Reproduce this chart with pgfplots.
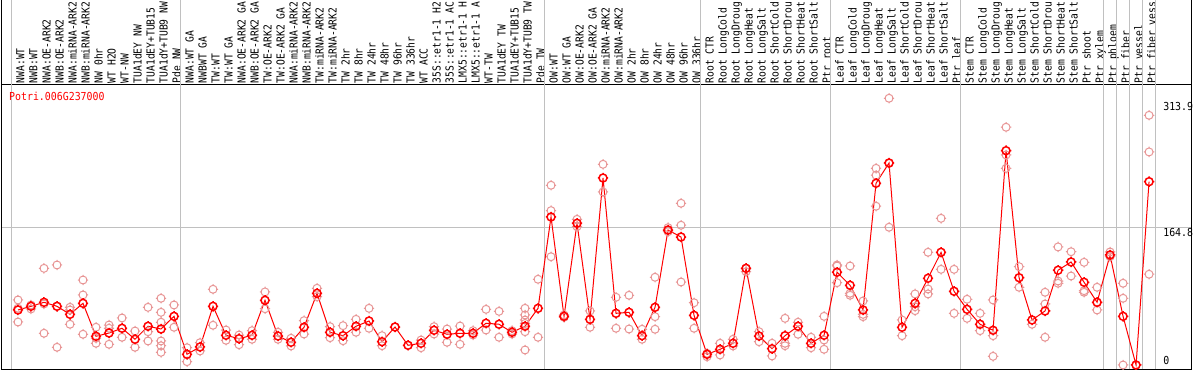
\documentclass[border=0pt]{standalone}
\usepackage{pgfplots}
\pgfplotsset{compat=1.18}
\usepackage{fontspec}
\newfontfamily\mono[FakeStretch=0.9]{DejaVu Sans Mono}
\newfontfamily\hmono[FakeStretch=0.88]{DejaVu Sans Mono}
\definecolor{reppink}{RGB}{232,150,150}
\definecolor{sepgray}{RGB}{192,192,192}
\pgfdeclareplotmark{tcirc}{%
  \pgfpathcircle{\pgfpointorigin}{\pgfplotmarksize}%
  \pgfpathmoveto{\pgfqpoint{0pt}{0.8\pgfplotmarksize}}\pgfpathlineto{\pgfqpoint{0pt}{1.3\pgfplotmarksize}}%
  \pgfpathmoveto{\pgfqpoint{0pt}{-0.8\pgfplotmarksize}}\pgfpathlineto{\pgfqpoint{0pt}{-1.3\pgfplotmarksize}}%
  \pgfpathmoveto{\pgfqpoint{0.8\pgfplotmarksize}{0pt}}\pgfpathlineto{\pgfqpoint{1.3\pgfplotmarksize}{0pt}}%
  \pgfpathmoveto{\pgfqpoint{-0.8\pgfplotmarksize}{0pt}}\pgfpathlineto{\pgfqpoint{-1.3\pgfplotmarksize}{0pt}}%
  \pgfusepathqstroke}
\newcommand{\lblfont}{\mono\fontsize{11bp}{13bp}\selectfont}
\newcommand{\hdrfont}{\hmono\fontsize{11bp}{13bp}\selectfont}
\begin{document}
\begin{tikzpicture}
\begin{axis}[
  scale only axis, width=1190bp, height=284bp,
  xmin=-0.269, xmax=91.27, ymin=-4.8, ymax=335.4,
  clip=false,
  axis line style={line width=1bp, black},
  xtick={1,...,88},
  xticklabels={NWA:WT,NWB:WT,NWA:OE-ARK2,NWB:OE-ARK2,NWA:miRNA-ARK2,NWB:miRNA-ARK2,NW 0hr,WT H2O,WT-NW,TUA1dEY NW,TUA1dEY+TUB15,TUA1dY+TUB9 NW,Pde NW,
    NWA:WT GA,NWBWT GA,TW:WT,TW:WT GA,NWA:OE-ARK2 GA,NWB:OE-ARK2 GA,TW:OE-ARK2,TW:OE-ARK2 GA,NWA:miRNA-ARK2,NWB:miRNA-ARK2,TW:miRNA-ARK2,TW:miRNA-ARK2,TW 2hr,TW 8hr,TW 24hr,TW 48hr,TW 96hr,TW 336hr,WT ACC,35S::etr1-1 H2,35S::etr1-1 AC,LMX5::etr1-1 H,LMX5::etr1-1 A,WT-TW,TUA1dEY TW,TUA1dEY+TUB15,TUA1dY+TUB9 TW,Pde TW,
    OW:WT,OW:WT GA,OW:OE-ARK2,OW:OE-ARK2 GA,OW:miRNA-ARK2,OW:miRNA-ARK2,OW 2hr,OW 8hr,OW 24hr,OW 48hr,OW 96hr,OW 336hr,
    Root CTR,Root LongCold,Root LongDroug,Root LongHeat,Root LongSalt,Root ShortCold,Root ShortDrou,Root ShortHeat,Root ShortSalt,Ptr root,
    Leaf CTR,Leaf LongCold,Leaf LongDroug,Leaf LongHeat,Leaf LongSalt,Leaf ShortCold,Leaf ShortDrou,Leaf ShortHeat,Leaf ShortSalt,Ptr leaf,
    Stem CTR,Stem LongCold,Stem LongDroug,Stem LongHeat,Stem LongSalt,Stem ShortCold,Stem ShortDrou,Stem ShortHeat,Stem ShortSalt,Ptr shoot,Ptr xylem,Ptr phloem,Ptr fiber,Ptr vessel,Ptr fiber vess},
  xticklabel pos=upper,
  major tick length=0pt,
  xticklabel style={font=\hdrfont, xshift=6.5bp, yshift=1.5bp, rotate=90, anchor=base west, inner sep=0pt},
  ytick={164.8}, yticklabels={},
  ymajorgrids, major grid style={sepgray, line width=1bp},
]
\coordinate (SW) at (rel axis cs:0,0);
\foreach \s in {0.5,13.5,41.5,53.5,63.5,73.5,84.5,85.5,86.5,87.5,88.5}{
  \edef\tmp{\noexpand\draw[sepgray, line width=1bp] (axis cs:\s,-4.8) -- (axis cs:\s,335.4) -- ++(0pt,90bp);}\tmp
}
\draw[black, line width=1bp] (rel axis cs:0,1) -- ++(0pt,90bp);
\draw[black, line width=1bp] (rel axis cs:1,1) -- ++(0pt,90bp);
\node[anchor=base west, inner sep=0pt, font=\lblfont, text=red] at (axis cs:0.308,316.6) {Potri.006G237000};
\node[anchor=base west, inner sep=0pt, font=\lblfont] at (axis cs:89.08,304.6) {313.9};
\node[anchor=base west, inner sep=0pt, font=\lblfont] at (axis cs:89.08,153.9) {164.8};
\node[anchor=base west, inner sep=0pt, font=\lblfont] at (axis cs:89.08,0) {0};
\addplot[only marks, mark=tcirc, mark size=4bp, mark options={reppink, line width=1bp}] coordinates {
(1,77.9)(1,68)(1,51.5)(2,71.9)(2,67.1)(3,115.8)(3,73.1)(3,38.0)(4,119.8)(4,70.3)(4,21.2)
(5,69.1)(5,65.9)(5,48.8)(6,101.8)(6,83.9)(6,36.8)(7,45.2)(7,32.0)(7,26.0)(8,47.9)(8,44.0)(8,24.8)
(9,56.3)(9,33.2)(10,40.7)(10,21.2)(11,69.1)(11,39.9)(11,28.8)
(12,79.9)(12,63.1)(12,51.2)(12,28.8)(12,23.1)(12,15.2)(13,71.9)(13,45.2)
(14,20.7)(14,4.0)(15,26.7)(15,16.8)(16,90.7)(16,47.6)(17,41.9)(17,29.6)(18,35.9)(18,24.3)
(19,41.1)(19,30.8)(20,87.5)(20,67.4)(21,39.2)(21,30.8)(22,32.0)(22,22.8)(23,53.1)(23,37.1)
(24,91.9)(24,81.8)(25,45.9)(25,32.7)(26,47.1)(26,29.1)(27,54.7)(27,39.2)(28,67.9)(28,44.0)
(29,35.1)(29,23.1)(30,45.5)(31,23.6)(32,29.9)(32,20.7)(33,45.9)(33,37.1)(34,43.1)(34,27.2)
(35,46.7)(35,24.8)(36,41.1)(36,35.9)(37,66.7)(37,41.9)(38,64.3)(38,33.2)(39,41.1)(39,37.1)
(40,67.9)(40,59.9)(40,53.9)(40,49.8)(40,39.9)(40,18.0)(41,102.7)(41,33.2)
(42,215.3)(42,184.9)(42,129.7)(43,59.9)(43,57.1)(44,174.5)(44,165.7)(45,64.7)(45,45.2)
(46,240.4)(46,207.3)(47,81.1)(47,44.0)(48,83.5)(48,43.1)(49,42.8)(49,30.8)
(50,105.1)(50,57.9)(50,42.8)(51,164.5)(51,159.7)(52,193.7)(52,167.4)(52,99.4)(53,74.6)(53,44.0)
(54,14.0)(54,9.9)(55,26.0)(55,12.0)(56,30.8)(56,22.8)(57,115.8)(57,111.8)(58,39.9)(58,27.9)
(59,26.0)(59,10.8)(60,55.9)(60,26.0)(60,23.1)(61,51.2)(61,36.8)(62,33.2)(62,20.7)
(63,58.3)(63,29.9)(63,18.8)(64,119.8)(64,118.6)(64,98.6)(65,118.6)(65,85.9)(65,83.5)
(66,76.7)(66,60.7)(66,57.9)(67,235.6)(67,227.3)(67,190.2)(68,319.5)(68,241.5)(68,165.0)
(69,53.9)(69,35.1)(70,85.1)(70,69.8)(70,65.1)(71,135.0)(71,91.0)(71,85.1)(72,175.7)(72,114.6)
(73,114.6)(73,61.9)(74,78.7)(74,55.9)(75,61.9)(75,41.1)(76,77.9)(76,35.1)(76,10.4)
(77,284.8)(77,251.6)(77,235.6)(78,117.8)(78,93.1)(79,48.8)(80,87.1)(80,73.1)(80,33.2)
(81,141.4)(81,100.6)(81,97.9)(82,135.7)(82,106.6)(83,123.0)(83,89.0)(83,87.1)(84,93.1)(84,65.9)
(85,135.4)(85,129.7)(86,97.9)(86,79.9)(86,0)(87,0)(88,299.1)(88,255.2)(88,108.7)
};
\addplot[red, line width=1bp, mark=tcirc, mark size=4bp, mark options={red, line width=1.5bp}] coordinates {
(1,65.9)(2,70.3)(3,75.1)(4,70.3)(5,60.7)(6,73.9)(7,34.4)(8,38.3)(9,44.0)(10,30.8)(11,46.4)(12,43.1)(13,58.3)
(14,12.8)(15,21.6)(16,70.3)(17,35.6)(18,31.5)(19,35.6)(20,77.5)(21,34.7)(22,27.2)(23,45.2)(24,85.9)(25,39.2)
(26,35.1)(27,46.4)(28,52.7)(29,27.9)(30,45.5)(31,23.6)(32,26.0)(33,41.6)(34,36.8)(35,38.0)(36,38.0)(37,50.0)
(38,48.8)(39,39.2)(40,46.4)(41,67.9)(42,177.3)(43,58.3)(44,169.8)(45,54.7)(46,224.0)(47,61.9)(48,63.1)
(49,35.1)(50,69.1)(51,161.7)(52,153.3)(53,59.5)(54,12.8)(55,18.8)(56,26.0)(57,115.8)(58,34.7)(59,19.5)
(60,35.1)(61,46.4)(62,26.0)(63,35.6)(64,111.1)(65,95.5)(66,65.9)(67,217.7)(68,242.0)(69,45.2)(70,73.9)
(71,103.9)(72,135.0)(73,88.3)(74,66.7)(75,48.8)(76,41.6)(77,256.7)(78,104.6)(79,53.9)(80,64.7)(81,113.5)
(82,123.4)(83,99.1)(84,75.1)(85,131.8)(86,58.3)(87,0)(88,219.6)
};
\end{axis}
\pgfresetboundingbox
\path[use as bounding box] (SW) ++(-1.5bp,-1bp) rectangle ++(1194bp,370bp);
\end{tikzpicture}
\end{document}
